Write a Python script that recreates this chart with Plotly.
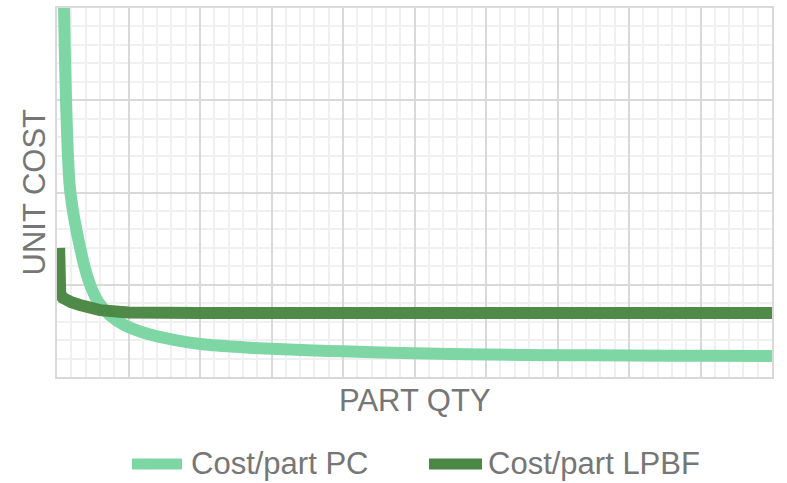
import plotly.graph_objects as go

# Data (x in axis units 0-10, y in 0-4)
pc_qty = [0.085, 0.098, 0.126, 0.18, 0.275, 0.44, 0.58, 0.74, 0.95, 1.3, 1.6, 2.0, 2.5, 3.0, 3.5, 4.0, 5.0, 6.0, 7.0, 8.0, 9.0, 10.0]
pc_cost = [4.6, 4.0, 3.0, 2.05, 1.58, 1.05, 0.81, 0.67, 0.56, 0.46, 0.408, 0.358, 0.327, 0.305, 0.29, 0.278, 0.257, 0.243, 0.237, 0.233, 0.230, 0.228]

lpbf_qty = [0.03, 0.03, 0.045, 0.08, 0.13, 0.20, 0.32, 0.60, 1.0, 1.5, 2.0, 10.0]
lpbf_cost = [1.40, 0.97, 0.90, 0.86, 0.835, 0.81, 0.78, 0.725, 0.70, 0.695, 0.693, 0.693]

series_names = ["Cost/part PC", "Cost/part LPBF"]
series_colors = ["#7FD6A5", "#4A8744"]
x_title = "PART QTY"
y_title = "UNIT COST"

FONT = "Liberation Sans, Arial, sans-serif"
TXT = "#767676"

fig = go.Figure()
fig.add_trace(go.Scatter(x=pc_qty, y=pc_cost, mode="lines", name=series_names[0],
                         line=dict(color=series_colors[0], width=12, shape="spline", smoothing=0.8),
                         showlegend=False))
fig.add_trace(go.Scatter(x=lpbf_qty, y=lpbf_cost, mode="lines", name=series_names[1],
                         line=dict(color=series_colors[1], width=12, shape="linear"),
                         opacity=0.97, showlegend=False))

grid_major = "#D9D9D9"
grid_minor = "#F0F0F0"
axis_common = dict(showticklabels=False, ticks="", zeroline=False, showgrid=True,
                   gridcolor=grid_major, gridwidth=2, showline=True, linecolor=grid_major,
                   linewidth=2, mirror=True, fixedrange=True)
fig.update_xaxes(range=[0, 10], dtick=1, tick0=0,
                 minor=dict(dtick=0.2, tick0=0, showgrid=True, gridcolor=grid_minor, gridwidth=2),
                 **axis_common)
fig.update_yaxes(range=[0, 4], dtick=1, tick0=0,
                 minor=dict(dtick=0.2, tick0=0, showgrid=True, gridcolor=grid_minor, gridwidth=2),
                 **axis_common)

W, H = 787, 483
ml, mr, mt, mb = 57, 15, 6, 106
pw, ph = W - ml - mr, H - mt - mb


def px_to_paper_x(px):
    return (px - ml) / pw


def py_to_paper_y(py):
    return (H - mb - py) / ph


annotations = [
    dict(text=x_title, x=0.5, y=py_to_paper_y(401), xref="paper", yref="paper",
         xanchor="center", yanchor="middle", showarrow=False,
         font=dict(family=FONT, size=31, color=TXT)),
    dict(text=y_title, x=px_to_paper_x(34), y=0.5, xref="paper", yref="paper",
         xanchor="center", yanchor="middle", showarrow=False, textangle=-90,
         font=dict(family=FONT, size=31, color=TXT)),
]
# custom legend
legend_items = [(132, 182, 189), (429, 482, 486)]
shapes = []
for (x0, x1, tx), name, col in zip(legend_items, series_names, series_colors):
    shapes.append(dict(type="rect", xref="paper", yref="paper",
                       x0=px_to_paper_x(x0), x1=px_to_paper_x(x1),
                       y0=py_to_paper_y(470), y1=py_to_paper_y(459),
                       fillcolor=col, line=dict(width=0)))
    annotations.append(dict(text=name, x=px_to_paper_x(tx), y=py_to_paper_y(464),
                            xref="paper", yref="paper", xanchor="left", yanchor="middle",
                            showarrow=False, font=dict(family=FONT, size=31, color=TXT)))

fig.update_layout(width=W, height=H, margin=dict(l=ml, r=mr, t=mt, b=mb, pad=0),
                  paper_bgcolor="white", plot_bgcolor="white",
                  annotations=annotations, shapes=shapes, showlegend=False)

fig.write_html("out.html", config={"displayModeBar": False},
               post_script="document.body.style.margin='0px';document.body.style.overflow='hidden';")
